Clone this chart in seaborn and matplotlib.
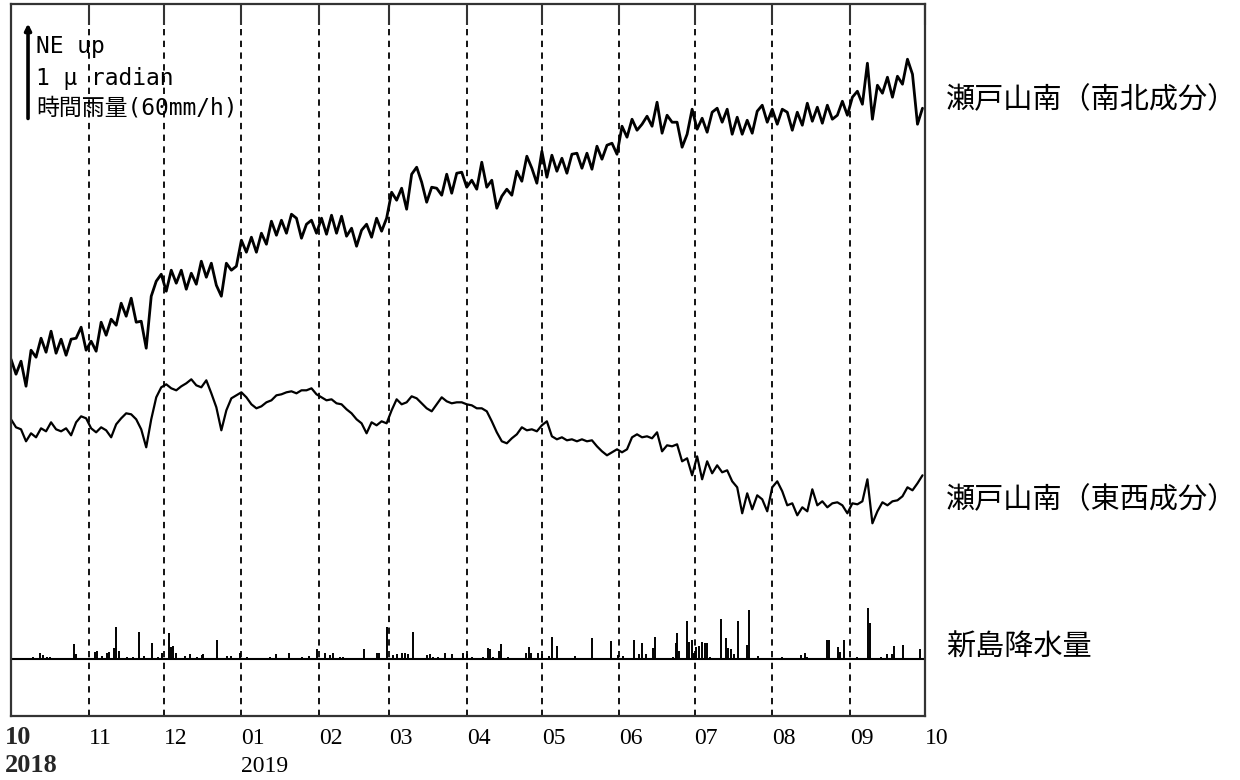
import numpy as np
import pandas as pd
import matplotlib
matplotlib.use("Agg")
import matplotlib.pyplot as plt
import matplotlib.dates as mdates
import seaborn as sns

# ---------------- data ----------------
# tilt readings, in chart units where 95 units = 1 micro-radian (scale bar)
# samples every 2 days from 2018-10-01
ns_tilt = [
    11, -4, 9, -16, 20, 13, 32, 18, 39, 17, 31, 15, 31, 32, 43,
    20, 29, 19, 48, 35, 51, 45, 67, 54, 72, 48, 49, 22, 74, 89,
    96, 79, 100, 87, 100, 81, 97, 86, 109, 93, 107, 85, 74, 107, 100,
    104, 130, 118, 133, 118, 137, 126, 149, 135, 150, 137, 156, 152, 132, 146,
    150, 137, 152, 136, 155, 137, 154, 134, 142, 124, 140, 146, 133, 152, 139,
    152, 178, 170, 182, 161, 196, 203, 188, 168, 183, 182, 175, 196, 177, 197,
    198, 183, 190, 181, 208, 183, 190, 162, 174, 181, 175, 199, 189, 214, 202,
    187, 219, 193, 215, 199, 212, 197, 216, 217, 202, 217, 201, 224, 211, 225,
    227, 216, 244, 233, 251, 240, 246, 254, 244, 268, 237, 255, 248, 248, 223,
    236, 261, 241, 252, 238, 258, 262, 248, 261, 236, 253, 236, 250, 237, 259,
    265, 248, 261, 246, 261, 258, 240, 258, 245, 267, 249, 263, 247, 265, 251,
    255, 269, 255, 273, 279, 266, 307, 251, 285, 277, 293, 273, 294, 286, 311,
    296, 246, 262,
]
ew_tilt = [
    6, -2, -4, -16, -8, -12, -3, -6, 3, -4, -6, -3, -10, 3, 9,
    7, -3, -7, -2, -5, -12, 1, 7, 12, 11, 6, -4, -22, 6, 28,
    38, 41, 37, 35, 39, 42, 46, 40, 38, 45, 32, 18, -5, 15, 27,
    30, 33, 28, 21, 17, 19, 23, 25, 30, 31, 33, 34, 32, 35, 35,
    37, 31, 28, 25, 26, 22, 21, 16, 12, 6, 2, -8, 3, 0, 4,
    2, 15, 26, 21, 23, 29, 27, 22, 17, 14, 21, 28, 24, 22, 23,
    23, 21, 20, 17, 17, 14, 4, -7, -16, -18, -13, -9, -2, -5, -4,
    -6, 0, 4, -11, -14, -12, -15, -14, -16, -14, -16, -15, -21, -26, -30,
    -27, -24, -27, -24, -12, -9, -12, -11, -13, -7, -26, -20, -21, -19, -36,
    -33, -50, -31, -54, -36, -48, -40, -47, -45, -56, -62, -88, -68, -84, -70,
    -74, -86, -62, -56, -66, -80, -78, -90, -82, -86, -64, -80, -76, -82, -78,
    -77, -80, -88, -78, -79, -76, -54, -98, -86, -77, -80, -76, -75, -71, -62,
    -65, -58, -50,
]
# hourly rainfall at 新島 (days after 2018-10-01, mm/h)
rain_day = [
    8.8, 11.6, 12.8, 14.4, 15.6, 25.2, 26.0, 33.5, 34.3, 36.3,
    38.3, 39.1, 41.1, 41.9, 43.1, 46.3, 48.7, 51.1, 53.1, 56.3,
    58.7, 60.3, 63.1, 63.9, 64.7, 65.9, 69.5, 71.5, 74.3, 76.3,
    76.7, 82.3, 86.3, 87.9, 91.5, 94.2, 103.4, 105.8, 111.0, 116.2,
    119.0, 122.2, 125.4, 127.4, 128.6, 131.4, 132.6, 141.0, 146.2, 147.0,
    150.2, 152.6, 154.2, 156.2, 157.3, 158.5, 160.5, 166.1, 167.3, 168.5,
    170.5, 173.3, 176.1, 180.5, 182.1, 184.1, 188.5, 190.5, 191.3, 192.5,
    194.9, 195.7, 198.5, 205.7, 206.9, 207.7, 210.5, 212.1, 214.9, 216.1,
    218.1, 225.2, 232.0, 239.6, 242.4, 244.4, 248.8, 250.8, 252.0, 253.6,
    256.4, 257.2, 264.4, 265.6, 266.0, 266.8, 270.0, 270.8, 272.0, 272.8,
    273.6, 274.8, 276.0, 277.2, 278.0, 279.2, 283.5, 285.5, 286.3, 287.5,
    288.7, 290.3, 293.9, 294.7, 298.3, 307.9, 315.5, 317.1, 317.9, 325.9,
    326.7, 330.3, 331.1, 332.7, 337.9, 342.3, 343.1, 347.4, 349.8, 351.8,
    352.6, 356.2, 363.0,
]
rain_mm = [
    1.1, 3.8, 2.3, 1.0, 1.0, 9.3, 3.2, 4.4, 5.0, 2.0,
    3.6, 4.2, 7.0, 20.0, 5.0, 1.0, 1.0, 17.3, 2.0, 10.3,
    1.0, 3.8, 16.2, 7.6, 8.2, 3.8, 2.0, 3.2, 1.0, 2.5,
    3.2, 12.0, 2.0, 2.0, 3.8, 1.0, 1.0, 3.2, 3.8, 1.0,
    2.0, 6.3, 3.8, 2.5, 3.8, 1.0, 1.0, 6.3, 3.8, 3.8,
    20.0, 2.5, 3.2, 3.8, 3.8, 3.2, 17.3, 2.5, 3.2, 1.0,
    1.0, 3.8, 3.2, 3.8, 3.2, 1.0, 1.0, 6.8, 6.3, 1.0,
    5.0, 9.3, 1.0, 3.8, 7.6, 3.8, 3.8, 3.2, 2.0, 14.1,
    8.2, 2.0, 13.1, 11.4, 2.5, 2.0, 12.0, 3.2, 10.3, 3.2,
    6.8, 14.1, 1.0, 9.9, 16.2, 5.0, 24.2, 10.9, 12.0, 3.8,
    7.6, 8.2, 10.9, 10.3, 9.9, 1.0, 25.1, 13.1, 6.8, 6.1,
    3.2, 24.2, 8.8, 31.0, 2.0, 1.0, 2.5, 3.8, 1.0, 12.0,
    12.0, 7.6, 4.4, 12.0, 1.0, 32.0, 23.0, 1.0, 3.2, 3.2,
    8.2, 8.8, 6.1,
]
month_labels = ["11", "12", "01", "02", "03", "04", "05", "06", "07", "08", "09", "10"]
series_labels = ["瀬戸山南（南北成分）", "瀬戸山南（東西成分）", "新島降水量"]

# ---------------- layout constants ----------------
UNITS_PER_URAD = 95.0
NS_OFFSET = 3.64     # plotting offsets (micro-radian)
EW_OFFSET = 3.06
RAIN_BASE = 0.60
RAIN_FULL = 60.0     # 60 mm/h = 1 micro-radian of height
YMAX = 7.495

start = pd.Timestamp("2018-10-01")
days = np.arange(0, 365, 2)
t = start + pd.to_timedelta(days, unit="D")
df = pd.DataFrame({
    "t": t,
    "ns": np.array(ns_tilt) / UNITS_PER_URAD + NS_OFFSET,
    "ew": np.array(ew_tilt) / UNITS_PER_URAD + EW_OFFSET,
})
rain_t = start + pd.to_timedelta(np.array(rain_day), unit="D")
months = pd.date_range("2018-11-01", "2019-10-01", freq="MS")

sns.set_theme(style="white")
plt.rcParams["font.family"] = ["Noto Sans CJK JP", "DejaVu Sans"]

fig = plt.figure(figsize=(12.4, 7.8), dpi=100)
ax = fig.add_axes([11 / 1240, 1 - 716 / 780, 914 / 1240, 712 / 780])

sns.lineplot(data=df, x="t", y="ns", ax=ax, color="black", lw=2.0, estimator=None)
sns.lineplot(data=df, x="t", y="ew", ax=ax, color="black", lw=1.6, estimator=None)

ax.axhline(RAIN_BASE, color="black", lw=1.5)
ax.vlines(rain_t, RAIN_BASE, RAIN_BASE + np.array(rain_mm) / RAIN_FULL,
          color="black", lw=1.4)

for m in months[:-1]:
    ax.axvline(m, ymin=0, ymax=0.965, color="black", lw=1.3,
               linestyle=(0, (3.5, 3)))

ax.set_xlim(start, pd.Timestamp("2019-10-01"))
ax.set_ylim(0, YMAX)
ax.set_xlabel("")
ax.set_ylabel("")
ax.set_yticks([])
ax.set_xticks(months)
ax.tick_params(axis="x", which="both", top=True, bottom=False, direction="in",
               length=15, width=1.5, color="#333333",
               labelbottom=False, labeltop=False)
for s in ax.spines.values():
    s.set_color("#333333")
    s.set_linewidth(1.6)

# scale bar (1 micro-radian / 60 mm/h)
xb = mdates.date2num(start + pd.Timedelta(days=6.8))
ybot = 6.29
ax.annotate("", xy=(xb, ybot + 1.0), xytext=(xb, ybot),
            arrowprops=dict(arrowstyle="-|>", lw=2.6, color="black",
                            mutation_scale=9, shrinkA=0, shrinkB=0))
mono = ["DejaVu Sans Mono", "Noto Sans CJK JP"]
for txt, yp in [("NE up", 47), ("1 μ radian", 78), ("時間雨量(60mm/h)", 108)]:
    fig.text(36 / 1240, 1 - yp / 780, txt, family=mono, fontsize=16.5,
             va="center", ha="left", color="black")

# right labels
for lab, yp in zip(series_labels, [100, 500, 648]):
    fig.text(946 / 1240, 1 - yp / 780, lab, fontsize=21, va="center",
             ha="left", color="black", family=["Noto Sans CJK JP"])

# bottom month labels
xt = ax.get_xaxis_transform()
for m, lab in zip(months, month_labels):
    ax.text(m, -0.0323, lab, transform=xt, ha="left", va="center",
            fontsize=17, family="Liberation Serif", color="black")
ax.text(months[2], -0.0716, "2019", transform=xt, ha="left", va="center",
        fontsize=17, family="Liberation Serif", color="black")
fig.text(5 / 1240, 1 - 738 / 780, "10", fontsize=19, fontweight="bold",
         family="Liberation Serif", va="center", ha="left")
fig.text(5 / 1240, 1 - 765 / 780, "2018", fontsize=19, fontweight="bold",
         family="Liberation Serif", va="center", ha="left")

fig.savefig("out.png", dpi=100, facecolor="white")
